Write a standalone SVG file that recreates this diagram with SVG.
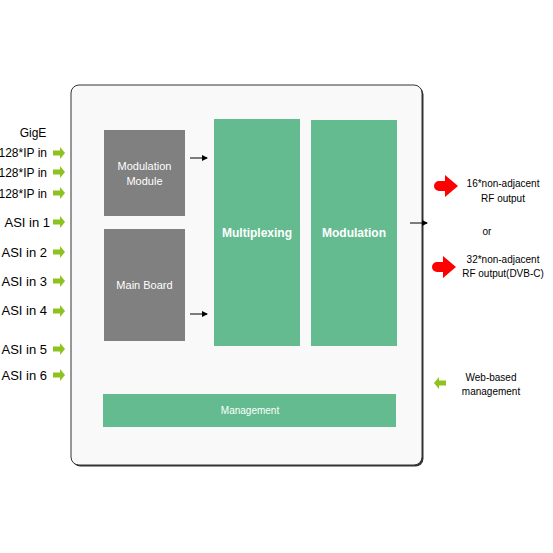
<svg xmlns="http://www.w3.org/2000/svg" width="553" height="553" viewBox="0 0 553 553">
<defs>
<style>
.t{font-family:"Liberation Sans",Arial,sans-serif;fill:#000}
.w{font-family:"Liberation Sans",Arial,sans-serif;fill:#fff}
.gray{fill:#808080}
.green{fill:#63bb8f}
.ga{fill:#8dc21f}
.ra{fill:#ff0000}
</style>
<marker id="ah" viewBox="0 0 6 6" refX="5" refY="3" markerWidth="6" markerHeight="6" markerUnits="userSpaceOnUse" orient="auto">
<path d="M0,0 L6,3 L0,6 z" fill="#000"/>
</marker>
<path id="garr" d="M0,-2.5 H7 V-6 L12,0 L7,6 V2.5 H0 z"/>
<path id="rarr" d="M5,-5 H11 V-11 L24,0 L11,11 V5 H5 A5,5 0 0 1 5,-5 z"/>
</defs>
<rect width="553" height="553" fill="#fff"/>
<g id="chassis">
<rect x="72.5" y="86.5" width="351" height="380" rx="8" fill="#333"/>
<rect x="71" y="85" width="351" height="380" rx="8" fill="#f9f9f9" stroke="#333" stroke-width="1"/>
</g>
<g id="modulation-module">
<rect class="gray" x="104" y="130" width="81" height="86"/>
<text class="w" x="144.5" y="170" font-size="11" text-anchor="middle">Modulation</text>
<text class="w" x="144.5" y="185" font-size="11" text-anchor="middle">Module</text>
</g>
<g id="main-board">
<rect class="gray" x="104" y="229" width="81" height="112"/>
<text class="w" x="144.5" y="289" font-size="11" text-anchor="middle">Main Board</text>
</g>
<g id="multiplexing">
<rect class="green" x="214" y="119" width="86" height="227"/>
<text class="w" x="257" y="237" font-size="12" font-weight="bold" text-anchor="middle">Multiplexing</text>
</g>
<g id="modulation">
<rect class="green" x="311" y="120" width="86" height="226"/>
<text class="w" x="354" y="237" font-size="12" font-weight="bold" text-anchor="middle">Modulation</text>
</g>
<g id="management">
<rect class="green" x="103" y="394" width="293" height="33"/>
<text class="w" x="250" y="414" font-size="10" text-anchor="middle">Management</text>
</g>
<g id="connectors" stroke="#000" stroke-width="1" fill="none">
<line x1="190" y1="158" x2="207" y2="158" marker-end="url(#ah)"/>
<line x1="190" y1="314" x2="207" y2="314" marker-end="url(#ah)"/>
<line x1="410" y1="223" x2="427" y2="223" marker-end="url(#ah)"/>
</g>
<g id="inputs">
<text class="t" x="33" y="137" font-size="12" text-anchor="middle">GigE</text>
<text class="t" x="47" y="157" font-size="12" text-anchor="end">128*IP in</text>
<text class="t" x="47" y="177" font-size="12" text-anchor="end">128*IP in</text>
<text class="t" x="47" y="198" font-size="12" text-anchor="end">128*IP in</text>
<text class="t" x="50" y="227" font-size="13" text-anchor="end">ASI in 1</text>
<text class="t" x="47" y="257" font-size="13" text-anchor="end">ASI in 2</text>
<text class="t" x="47" y="286" font-size="13" text-anchor="end">ASI in 3</text>
<text class="t" x="47" y="315" font-size="13" text-anchor="end">ASI in 4</text>
<text class="t" x="47" y="354" font-size="13" text-anchor="end">ASI in 5</text>
<text class="t" x="47" y="380" font-size="13" text-anchor="end">ASI in 6</text>
<g class="ga">
<use href="#garr" x="53" y="153"/>
<use href="#garr" x="53" y="172"/>
<use href="#garr" x="53" y="193"/>
<use href="#garr" x="53" y="222"/>
<use href="#garr" x="53" y="252"/>
<use href="#garr" x="53" y="281"/>
<use href="#garr" x="53" y="311"/>
<use href="#garr" x="53" y="349"/>
<use href="#garr" x="53" y="375"/>
</g>
</g>
<g id="outputs">
<use class="ra" href="#rarr" x="434" y="186"/>
<use class="ra" href="#rarr" x="432" y="267"/>
<text class="t" x="503" y="187" font-size="10" text-anchor="middle">16*non-adjacent</text>
<text class="t" x="503" y="202" font-size="10" text-anchor="middle">RF output</text>
<text class="t" x="487" y="235" font-size="10" text-anchor="middle">or</text>
<text class="t" x="503" y="263" font-size="10" text-anchor="middle">32*non-adjacent</text>
<text class="t" x="503" y="277" font-size="10" text-anchor="middle">RF output(DVB-C)</text>
</g>
<g id="web-management">
<use class="ga" href="#garr" transform="translate(446,383) scale(-1,1)"/>
<text class="t" x="491" y="381" font-size="10" text-anchor="middle">Web-based</text>
<text class="t" x="491" y="395" font-size="10" text-anchor="middle">management</text>
</g>
</svg>
